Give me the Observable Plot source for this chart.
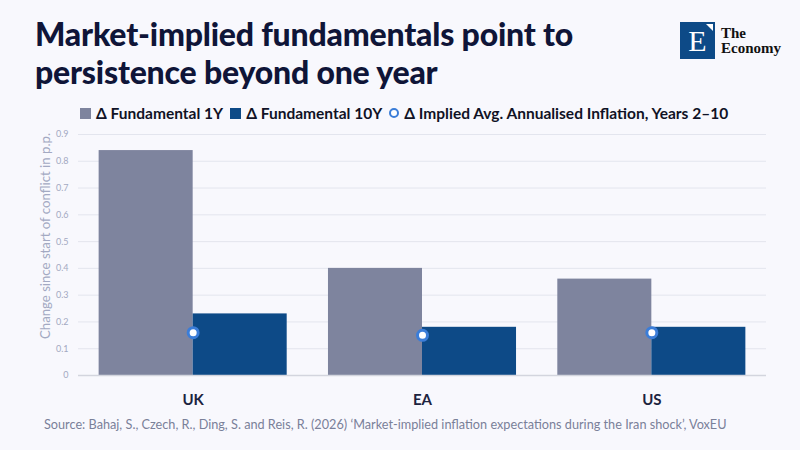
<!DOCTYPE html>
<html>
<head>
<meta charset="utf-8">
<script src="https://cdn.jsdelivr.net/npm/d3@7"></script>
<script src="https://cdn.jsdelivr.net/npm/@observablehq/plot@0.6"></script>
<style>
  html, body { margin: 0; padding: 0; }
  body { width: 800px; height: 450px; background: #f8f8fd; position: relative; overflow: hidden; font-family: Lato, "Noto Sans", sans-serif; }
  #title { position: absolute; left: 35px; top: 15px; font-size: 32px; line-height: 38px; font-weight: 900; color: #0f1538; letter-spacing: -0.2px; }
  #legend { position: absolute; left: 80px; top: 104px; font-size: 15.5px; font-weight: 700; color: #101225; display: flex; align-items: center; white-space: nowrap; }
  #legend .item { display: flex; align-items: center; margin-right: 7px; }
  #legend .sw { width: 11px; height: 11px; margin-right: 5px; }
  #legend .ring { width: 6px; height: 6px; border: 2.5px solid #3b7dd8; border-radius: 50%; background: #fff; margin-right: 5px; }
  #chart { position: absolute; left: 0; top: 120px; }
  #source { position: absolute; left: 44px; top: 416px; font-size: 12.7px; color: #7a8099; white-space: nowrap; }
  #logo { position: absolute; left: 680px; top: 22px; display: flex; align-items: center; }
  #logo .box { width: 35px; height: 37px; background: #0d4a87; position: relative; color: #fff; font-family: "Liberation Serif", serif; font-size: 30px; line-height: 37px; text-align: center; }
  #logo .box .tri { position: absolute; right: 2px; top: 2px; width: 0; height: 0; border-left: 7px solid transparent; border-top: 7px solid #fff; }
  #logo .txt { margin-left: 6px; font-family: "Liberation Serif", serif; font-size: 15px; line-height: 15px; color: #111; font-weight: 600; }
</style>
</head>
<body>
<div id="title">Market-implied fundamentals point to<br>persistence beyond one year</div>
<div id="logo"><div class="box">E<div class="tri"></div></div><div class="txt">The<br>Economy</div></div>
<div id="legend"></div>
<div id="chart"></div>
<div id="source">Source: Bahaj, S., Czech, R., Ding, S. and Reis, R. (2026) ‘Market-implied inflation expectations during the Iran shock’, VoxEU</div>
<script>
const countries = ["UK", "EA", "US"];
const series = ["Δ Fundamental 1Y", "Δ Fundamental 10Y"];
const fundamental1Y = [0.84, 0.40, 0.36];
const fundamental10Y = [0.23, 0.18, 0.18];
const impliedAvg = [0.16, 0.15, 0.16];
const dotLabel = "Δ Implied Avg. Annualised Inflation, Years 2–10";
const yLabel = "Change since start of conflict in p.p.";
const yTicks = [0, 0.1, 0.2, 0.3, 0.4, 0.5, 0.6, 0.7, 0.8, 0.9];
const colors = ["#7e849e", "#0d4a87"];
const dotColor = "#3b7dd8";
const halfGroup = 0.41; // share of a category step taken by each bar

const bars = [];
countries.forEach((c, i) => {
  bars.push({i, country: c, series: series[0], value: fundamental1Y[i], x1: i - halfGroup, x2: i});
  bars.push({i, country: c, series: series[1], value: fundamental10Y[i], x1: i, x2: i + halfGroup});
});
const dots = countries.map((c, i) => ({i, country: c, value: impliedAvg[i]}));

// legend
const lg = document.getElementById("legend");
series.forEach((s, i) => {
  const it = document.createElement("div"); it.className = "item";
  it.innerHTML = `<div class="sw" style="background:${colors[i]}"></div>${s}`;
  lg.appendChild(it);
});
{
  const it = document.createElement("div"); it.className = "item";
  it.innerHTML = `<div class="ring"></div>${dotLabel}`;
  lg.appendChild(it);
}

const chart = Plot.plot({
  width: 800,
  height: 290,
  marginLeft: 78,
  marginRight: 34,
  marginTop: 14,
  marginBottom: 35,
  style: {background: "transparent", fontFamily: "Lato, 'Noto Sans', sans-serif"},
  x: {type: "linear", domain: [-0.5, countries.length - 0.5], axis: null},
  y: {domain: [0, 0.9], axis: null},
  color: {domain: series, range: colors},
  marks: [
    Plot.ruleY(yTicks.slice(1), {stroke: "#e3e5ee", strokeWidth: 1}),
    Plot.axisY(yTicks, {anchor: "left", tickSize: 0, tickPadding: 10, fontSize: 9, fill: "#a3a9c2", tickFormat: d3.format("~g"), label: null}),
    Plot.text([yLabel], {frameAnchor: "left", textAnchor: "middle", lineAnchor: "middle", rotate: -90, dx: -33, dy: -19, fontSize: 13.2, fill: "#a3a9c2"}),
    Plot.rectY(bars, {x1: "x1", x2: "x2", y: "value", fill: "series"}),
    Plot.ruleY([0], {stroke: "#d3d5de", strokeWidth: 1.5}),
    Plot.dot(dots, {x: "i", y: "value", r: 5, fill: "#fff", stroke: dotColor, strokeWidth: 3}),
    Plot.axisX(countries.map((c, i) => i), {anchor: "bottom", tickSize: 0, tickPadding: 19, fontSize: 15, fontWeight: "bold", fill: "#1c2340", tickFormat: i => countries[i], label: null})
  ]
});
document.getElementById("chart").appendChild(chart);
</script>
</body>
</html>
